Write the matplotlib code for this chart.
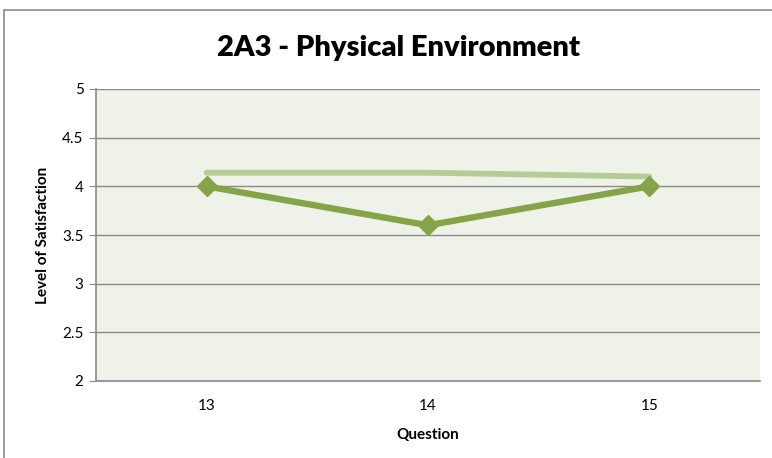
import matplotlib
matplotlib.use("Agg")
import matplotlib.pyplot as plt
from matplotlib.patches import Rectangle

questions = ["13", "14", "15"]
series_dark = [4.0, 3.6, 4.0]
series_light = [4.14, 4.14, 4.10]
y_ticks = [2, 2.5, 3, 3.5, 4, 4.5, 5]
y_tick_labels = ["2", "2.5", "3", "3.5", "4", "4.5", "5"]

plt.rcParams['font.family'] = ['Lato', 'DejaVu Sans']

W, H = 772, 458
fig = plt.figure(figsize=(W/100, H/100), dpi=100)
fig.patch.set_facecolor('white')

# outer chart border (cropped at right/bottom)
fig.add_artist(Rectangle((4/W, -0.1), 1.2, 1 - 10/H + 0.1, transform=fig.transFigure,
                         fill=False, edgecolor='#8c8c8c', linewidth=1.2))

ax = fig.add_axes([96/W, 1 - 381/H, (760-96)/W, (381-89)/H])
ax.set_facecolor('#EFF2E9')
x = list(range(len(questions)))

ax.plot(x, series_light, color='#B6CC95', linewidth=4.2, solid_capstyle='round', zorder=3)
ax.plot(x, series_dark, color='#85A448', linewidth=4.6, marker='D', markersize=10,
        markeredgecolor='#85A448', zorder=4)

ax.set_xlim(-0.5, 2.5)
ax.set_ylim(2, 5)
ax.set_yticks(y_ticks)
ax.set_yticklabels(y_tick_labels, fontsize=11)
ax.set_xticks(x)
ax.set_xticklabels(questions, fontsize=11)
ax.yaxis.grid(True, color='#8a8a8a', linewidth=1)
ax.set_axisbelow(True)
for s in ['top', 'right']:
    ax.spines[s].set_visible(False)
for s in ['left', 'bottom']:
    ax.spines[s].set_color('#8a8a8a')
    ax.spines[s].set_linewidth(1.2)
ax.tick_params(axis='y', length=5, color='#8a8a8a', pad=4)
ax.tick_params(axis='x', length=0, pad=13)

ax.set_xlabel('Question', fontsize=11, fontweight='bold', labelpad=11)
ax.set_ylabel('Level of Satisfaction', fontsize=11, fontweight='bold', labelpad=9)
fig.text(399/W, 1 - 48/H, '2A3 - Physical Environment', fontsize=21, fontweight='heavy',
         ha='center', va='center')

fig.savefig('out.png', dpi=100)
